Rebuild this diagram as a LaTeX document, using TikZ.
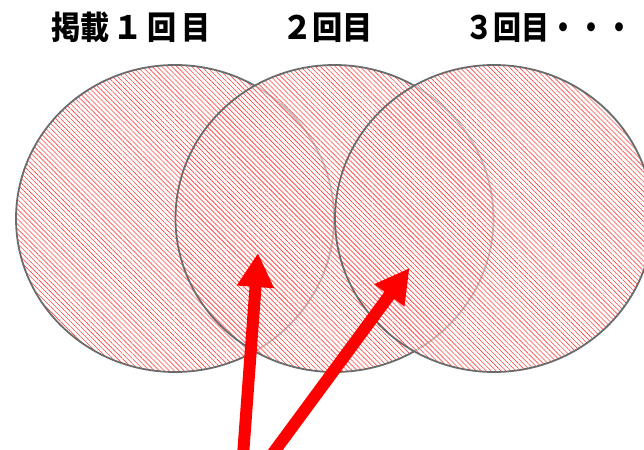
\documentclass[tikz,border=0pt]{standalone}
\usepackage{fontspec}
\newfontfamily\jp{Noto Sans CJK JP}
\usetikzlibrary{arrows.meta,patterns.meta,shapes.geometric}
\begin{document}
\begin{tikzpicture}[x=1pt,y=-1pt,
  disc/.style={ellipse, minimum width=318pt, minimum height=307pt, inner sep=0pt,
    draw=black!58, line width=1.8pt,
    preaction={fill=white, fill opacity=0.6},
    pattern={Lines[angle=-45,distance=3.5pt,line width=0.6pt]}, pattern color=red!72},
  lbl/.style={font=\jp\bfseries\fontsize{28}{30}\selectfont, inner sep=0pt, text=black},
  bigarrow/.style={draw=red, line width=12pt, -{Triangle[length=34pt,width=35pt]}}]
\useasboundingbox (0,0) rectangle (644,449);
\clip (0,0) rectangle (644,449);
\node[disc] (c1) at (175,218.5) {};
\node[disc] (c2) at (334.5,218.5) {};
\node[disc] (c3) at (494,218.5) {};
\node[lbl] (l1) at (131,27.5) {\scalebox{1.04}[1.15]{掲載\hspace{4pt}１\hspace{4pt}回\hspace{5pt}目}};
\node[lbl] (l2) at (327.5,27.5) {\scalebox{1.08}[1.15]{２回目}};
\node[lbl, anchor=west] (l3) at (465,27.5) {\scalebox{1.0}[1.15]{３回目・・・}};
\coordinate (a1s) at (242.7,460);
\coordinate (a1e) at (258,253);
\coordinate (a2s) at (268,460);
\coordinate (a2e) at (409.5,268);
\draw[bigarrow] (a1s) -- (a1e);
\draw[bigarrow] (a2s) -- (a2e);
\end{tikzpicture}
\end{document}
